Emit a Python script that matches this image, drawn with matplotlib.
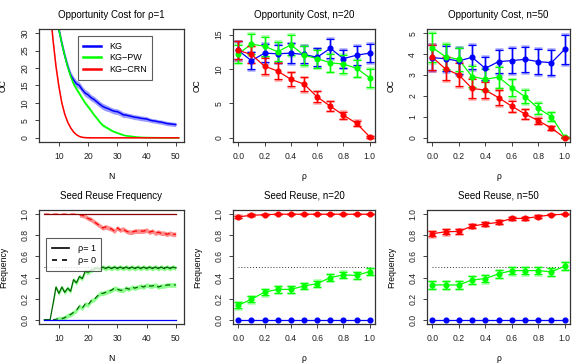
import matplotlib
matplotlib.use("Agg")
import matplotlib.pyplot as plt
import numpy as np

plt.rcParams['font.family'] = ['Liberation Sans', 'DejaVu Sans']

BLUE = '#0000FF'
GREEN = '#00FF00'
RED = '#FF0000'
DKRED = '#8B0000'
DKGREEN = '#006400'

# ---------------- Panel 1: Opportunity cost for rho=1 ----------------
N_kg = list(range(5, 51))
kg_oc = [60, 52, 45, 39, 34.5, 31, 27, 23.5, 20.5, 18, 16.6, 15.5, 15.0, 13.8, 12.8,
         12.3, 11.5, 11.0, 10.3, 9.6, 9.0, 8.6, 8.3, 7.9, 7.6, 7.5, 7.1, 6.6, 6.5, 6.3,
         6.1, 5.9, 5.8, 5.6, 5.5, 5.4, 5.1, 4.9, 4.8, 4.6, 4.5, 4.3, 4.1, 4.0, 3.9, 3.8]
kg_se = [2.0, 1.8, 1.6, 1.5, 1.4, 1.3, 1.2, 1.1, 1.1, 1.0, 1.0, 1.0, 1.0, 1.0, 1.0,
         1.0, 0.9, 0.9, 0.9, 0.9, 0.9, 0.9, 0.8, 0.8, 0.8, 0.8, 0.8, 0.8, 0.7, 0.7,
         0.7, 0.7, 0.7, 0.7, 0.7, 0.7, 0.6, 0.6, 0.6, 0.6, 0.6, 0.6, 0.6, 0.6, 0.6, 0.6]
N_pw = list(range(5, 52))
pw_oc = [62, 54, 46, 40, 35, 31, 27, 23.5, 20.3, 17.7, 15.5, 14.0, 12.7, 11.3, 10.0,
         8.9, 7.8, 6.6, 5.6, 4.5, 3.6, 3.1, 2.6, 2.1, 1.7, 1.4, 1.1, 0.8, 0.6, 0.5,
         0.4, 0.3, 0.2, 0.15, 0.1, 0.08, 0.06, 0.05, 0.04, 0.03, 0.02, 0.02, 0.01, 0.01,
         0.01, 0.0, 0.0]
pw_se = [1.5, 1.4, 1.3, 1.2, 1.1, 1.0, 0.9, 0.8, 0.8, 0.7, 0.7, 0.7, 0.7, 0.6, 0.6,
         0.6, 0.6, 0.5, 0.5, 0.5, 0.5, 0.4, 0.4, 0.4, 0.3, 0.3, 0.3, 0.2, 0.2, 0.2,
         0.15, 0.1, 0.1, 0.1, 0.05, 0.05, 0.05, 0.05, 0.05, 0.05, 0.05, 0.05, 0.05, 0.05,
         0.05, 0.05, 0.05]
N_crn = list(range(5, 52))
crn_oc = [60, 48, 37, 28, 20.5, 14.7, 10.0, 6.8, 4.5, 2.9, 1.7, 0.9, 0.4, 0.15, 0.05,
          0.02, 0.01, 0.0, 0.0, 0.0, 0.0, 0.0, 0.0, 0.0, 0.0, 0.0, 0.0, 0.0, 0.0, 0.0,
          0.0, 0.0, 0.0, 0.0, 0.0, 0.0, 0.0, 0.0, 0.0, 0.0, 0.0, 0.0, 0.0, 0.0, 0.0, 0.0, 0.0]
crn_se = [1.0, 0.9, 0.8, 0.7, 0.6, 0.5, 0.4, 0.35, 0.3, 0.25, 0.2, 0.15, 0.1, 0.08, 0.05,
          0.05, 0.05, 0.05, 0.05, 0.05, 0.05, 0.05, 0.05, 0.05, 0.05, 0.05, 0.05, 0.05, 0.05, 0.05,
          0.05, 0.05, 0.05, 0.05, 0.05, 0.05, 0.05, 0.05, 0.05, 0.05, 0.05, 0.05, 0.05, 0.05, 0.05, 0.05, 0.05]

# ---------------- rho panels ----------------
rho = [0.0, 0.1, 0.2, 0.3, 0.4, 0.5, 0.6, 0.7, 0.8, 0.9, 1.0]

oc20_kg = [12.7, 11.2, 12.3, 12.2, 12.3, 12.1, 11.7, 13.0, 11.5, 12.0, 12.3]
oc20_kg_err = [1.3, 1.2, 1.3, 1.3, 1.4, 1.3, 1.3, 1.4, 1.3, 1.4, 1.3]
oc20_pw = [12.2, 13.6, 13.3, 12.5, 13.5, 12.0, 11.5, 10.9, 10.7, 10.1, 8.7]
oc20_pw_err = [1.3, 1.5, 1.4, 1.4, 1.5, 1.4, 1.3, 1.3, 1.3, 1.2, 1.3]
oc20_crn = [12.7, 12.1, 10.4, 9.7, 8.5, 7.8, 5.95, 4.6, 3.3, 2.1, 0.15]
oc20_crn_err = [1.3, 1.2, 1.2, 1.2, 1.0, 1.0, 0.8, 0.7, 0.5, 0.4, 0.1]

oc50_kg = [3.83, 3.78, 3.67, 3.85, 3.32, 3.64, 3.69, 3.75, 3.64, 3.59, 4.23]
oc50_kg_err = [0.6, 0.6, 0.6, 0.58, 0.55, 0.55, 0.6, 0.6, 0.6, 0.6, 0.68]
oc50_pw = [4.31, 3.88, 3.75, 2.93, 2.80, 2.90, 2.40, 1.97, 1.41, 1.01, 0.03]
oc50_pw_err = [0.68, 0.6, 0.55, 0.5, 0.5, 0.5, 0.4, 0.33, 0.27, 0.2, 0.03]
oc50_crn = [3.85, 3.29, 3.01, 2.36, 2.28, 1.92, 1.51, 1.14, 0.82, 0.46, 0.0]
oc50_crn_err = [0.6, 0.55, 0.55, 0.45, 0.4, 0.35, 0.27, 0.22, 0.15, 0.1, 0.02]

sr20_kg = [0.0] * 11
sr20_pw = [0.137, 0.195, 0.262, 0.288, 0.288, 0.32, 0.342, 0.40, 0.425, 0.42, 0.457]
sr20_pw_err = [0.03, 0.03, 0.03, 0.03, 0.03, 0.03, 0.03, 0.03, 0.03, 0.03, 0.03]
sr20_crn = [0.975, 0.99, 0.995, 1.0, 1.0, 1.0, 1.0, 1.0, 1.0, 1.0, 1.0]
sr20_crn_err = [0.012, 0.008, 0.005, 0.0, 0.0, 0.0, 0.0, 0.0, 0.0, 0.0, 0.0]

sr50_kg = [0.0] * 11
sr50_pw = [0.33, 0.33, 0.33, 0.377, 0.39, 0.435, 0.466, 0.466, 0.466, 0.454, 0.508]
sr50_pw_err = [0.035, 0.035, 0.035, 0.035, 0.035, 0.035, 0.035, 0.035, 0.035, 0.035, 0.035]
sr50_crn = [0.815, 0.834, 0.837, 0.888, 0.907, 0.923, 0.96, 0.96, 0.978, 0.994, 1.0]
sr50_crn_err = [0.025, 0.025, 0.025, 0.02, 0.02, 0.018, 0.015, 0.015, 0.01, 0.005, 0.0]

# ---------------- Seed reuse vs N ----------------
N_sr = list(range(5, 51))
sr_crn_rho1 = [1.0] * 46
sr_crn_rho0 = [1.0, 1.0, 1.0, 1.0, 1.0, 1.0, 1.0, 1.0, 1.0, 1.0, 1.0, 1.0, 0.995, 0.99, 0.98,
               0.96, 0.95, 0.93, 0.91, 0.89, 0.87, 0.88, 0.87, 0.86, 0.84, 0.87, 0.85, 0.86, 0.84, 0.83,
               0.83, 0.84, 0.84, 0.84, 0.84, 0.85, 0.83, 0.84, 0.82, 0.83, 0.82, 0.82, 0.81, 0.82, 0.81, 0.81]
sr_pw_rho1 = [0.0, 0.0, 0.0, 0.15, 0.31, 0.25, 0.31, 0.26, 0.30, 0.27, 0.38, 0.35, 0.41, 0.39, 0.46,
              0.45, 0.47, 0.48, 0.49, 0.48, 0.50, 0.485, 0.50, 0.485, 0.50, 0.485, 0.50, 0.485, 0.50, 0.485,
              0.50, 0.485, 0.50, 0.485, 0.50, 0.485, 0.50, 0.485, 0.50, 0.485, 0.50, 0.485, 0.50, 0.485, 0.50, 0.49]
sr_pw_rho0 = [0.0, 0.0, 0.0, 0.0, 0.005, 0.01, 0.01, 0.02, 0.04, 0.05, 0.07, 0.09, 0.13, 0.11, 0.15,
              0.14, 0.18, 0.19, 0.22, 0.25, 0.25, 0.26, 0.27, 0.28, 0.30, 0.29, 0.28, 0.28, 0.30, 0.29,
              0.31, 0.30, 0.31, 0.32, 0.31, 0.33, 0.32, 0.32, 0.33, 0.31, 0.32, 0.32, 0.33, 0.33, 0.33, 0.33]
sr_kg = [0.0] * 46
sr_band = 0.022

W, H = 581, 363
fig = plt.figure(figsize=(W / 100, H / 100), dpi=100)

def ax_at(l, r, t, b):
    return fig.add_axes([l / W, 1 - b / H, (r - l) / W, (b - t) / H])

TF = 7.0
LF = 6.2

def style(ax, title, xlabel, ylabel):
    ax.set_title(title, fontsize=TF, pad=8)
    ax.set_xlabel(xlabel, fontsize=LF, labelpad=8)
    ax.set_ylabel(ylabel, fontsize=LF, labelpad=9)
    ax.tick_params(direction='out', length=3, width=0.6, labelsize=LF, pad=4, colors='#222222')
    for lab in ax.get_yticklabels():
        lab.set_rotation(90)
        lab.set_va('center')
    for s in ax.spines.values():
        s.set_linewidth(0.9)
        s.set_color('#333333')

cols = [(39, 184), (233, 375), (427, 570)]
rows = [(29, 142), (210, 324)]

# Panel 1
ax = ax_at(cols[0][0], cols[0][1], rows[0][0], rows[0][1])
for xs, ys, se, c, lab in [(N_kg, kg_oc, kg_se, BLUE, 'KG'),
                           (N_pw, pw_oc, pw_se, GREEN, 'KG\u2212PW'),
                           (N_crn, crn_oc, crn_se, RED, 'KG\u2212CRN')]:
    ys = np.array(ys); se = np.array(se)
    ax.fill_between(xs, ys - se, ys + se, color=c, alpha=0.4, lw=0)
    ax.plot(xs, ys, color=c, lw=1.1, label=lab)
ax.set_xlim(3.2, 52.8)
ax.set_ylim(-1.2, 31.2)
ax.set_xticks([10, 20, 30, 40, 50])
ax.set_yticks([0, 5, 10, 15, 20, 25, 30])
style(ax, 'Opportunity Cost for \u03c1=1', 'N', 'OC')
leg = ax.legend(loc='upper right', bbox_to_anchor=(0.81, 0.975), fontsize=6.5, frameon=True,
                fancybox=False, edgecolor='#333333', handlelength=1.9, borderpad=0.6,
                labelspacing=0.3, handletextpad=0.9)
leg.get_frame().set_linewidth(0.8)
for l in leg.get_lines():
    l.set_linewidth(1.8)

def rho_panel(ax, series, ylim, yticks, title, ylabel):
    for ys, err, c in series:
        ys = np.array(ys); err = np.array(err)
        ax.plot(rho, ys, color=c, lw=0.9, zorder=2)
        if err.max() > 0:
            ax.errorbar(rho, ys, yerr=err * 1.08, fmt='none', ecolor=c, alpha=0.35,
                        elinewidth=1.8, capsize=3.0, capthick=1.8, zorder=2)
            ax.errorbar(rho, ys, yerr=err, fmt='none', ecolor=c, elinewidth=0.9,
                        capsize=2.9, capthick=0.9, zorder=3)
        ax.plot(rho, ys, 'o', color=c, ms=3.4, mec=c, zorder=4)
    ax.set_xlim(-0.04, 1.04)
    ax.set_ylim(*ylim)
    ax.set_xticks([0.0, 0.2, 0.4, 0.6, 0.8, 1.0])
    ax.set_xticklabels(['0.0', '0.2', '0.4', '0.6', '0.8', '1.0'])
    ax.set_yticks(yticks)
    style(ax, title, '\u03c1', ylabel)

ax = ax_at(cols[1][0], cols[1][1], rows[0][0], rows[0][1])
rho_panel(ax, [(oc20_kg, oc20_kg_err, BLUE), (oc20_pw, oc20_pw_err, GREEN),
               (oc20_crn, oc20_crn_err, RED)], (-0.6, 15.8), [0, 5, 10, 15],
          'Opportunity Cost, n=20', 'OC')

ax = ax_at(cols[2][0], cols[2][1], rows[0][0], rows[0][1])
rho_panel(ax, [(oc50_kg, oc50_kg_err, BLUE), (oc50_pw, oc50_pw_err, GREEN),
               (oc50_crn, oc50_crn_err, RED)], (-0.2, 5.2), [0, 1, 2, 3, 4, 5],
          'Opportunity Cost, n=50', 'OC')

# Panel 4: seed reuse vs N
ax = ax_at(cols[0][0], cols[0][1], rows[1][0], rows[1][1])
ax.plot([5, 50], [0.5, 0.5], color='#333333', lw=0.7, ls=(0, (1, 2)))
for ys, c, lc, ls in [(sr_crn_rho0, RED, RED, (0, (4, 3))),
                      (sr_pw_rho0, GREEN, DKGREEN, (0, (4, 3))),
                      (sr_pw_rho1, GREEN, DKGREEN, '-')]:
    ys = np.array(ys)
    ax.fill_between(N_sr, np.clip(ys - sr_band, 0, 1), np.clip(ys + sr_band, 0, 1.0),
                    where=(ys > 0.003) & (ys < 0.997), color=c, alpha=0.45, lw=0)
    ax.plot(N_sr, ys, color=lc, lw=0.9, ls=ls)
ax.plot(N_sr, sr_crn_rho1, color=DKRED, lw=0.9)
ax.plot(N_sr, sr_kg, color=BLUE, lw=0.9)
ax.set_xlim(3.2, 52.8)
ax.set_ylim(-0.04, 1.04)
ax.set_xticks([10, 20, 30, 40, 50])
ax.set_yticks([0.0, 0.2, 0.4, 0.6, 0.8, 1.0])
ax.set_yticklabels(['0.0', '0.2', '0.4', '0.6', '0.8', '1.0'])
style(ax, 'Seed Reuse Frequency', 'N', 'Frequency')
h1, = ax.plot([], [], color='black', lw=1.2, ls='-')
h2, = ax.plot([], [], color='black', lw=1.2, ls=(0, (3, 3)))
leg = ax.legend([h1, h2], ['\u03c1= 1', '\u03c1= 0'], loc='upper left',
                bbox_to_anchor=(0.02, 0.79), fontsize=6.5, frameon=True, fancybox=False,
                edgecolor='#333333', handlelength=1.9, borderpad=0.6, labelspacing=0.4,
                handletextpad=1.0)
leg.get_frame().set_linewidth(0.8)

ax = ax_at(cols[1][0], cols[1][1], rows[1][0], rows[1][1])
ax.plot([0, 1], [0.5, 0.5], color='#333333', lw=0.7, ls=(0, (1, 2)))
rho_panel(ax, [(sr20_kg, [0.0] * 11, BLUE), (sr20_pw, sr20_pw_err, GREEN),
               (sr20_crn, sr20_crn_err, RED)], (-0.04, 1.04), [0.0, 0.2, 0.4, 0.6, 0.8, 1.0],
          'Seed Reuse, n=20', 'Frequency')
ax.set_yticklabels(['0.0', '0.2', '0.4', '0.6', '0.8', '1.0'], rotation=90, va='center')

ax = ax_at(cols[2][0], cols[2][1], rows[1][0], rows[1][1])
ax.plot([0, 1], [0.5, 0.5], color='#333333', lw=0.7, ls=(0, (1, 2)))
rho_panel(ax, [(sr50_kg, [0.0] * 11, BLUE), (sr50_pw, sr50_pw_err, GREEN),
               (sr50_crn, sr50_crn_err, RED)], (-0.04, 1.04), [0.0, 0.2, 0.4, 0.6, 0.8, 1.0],
          'Seed Reuse, n=50', 'Frequency')
ax.set_yticklabels(['0.0', '0.2', '0.4', '0.6', '0.8', '1.0'], rotation=90, va='center')

fig.savefig('out.png', dpi=100)
